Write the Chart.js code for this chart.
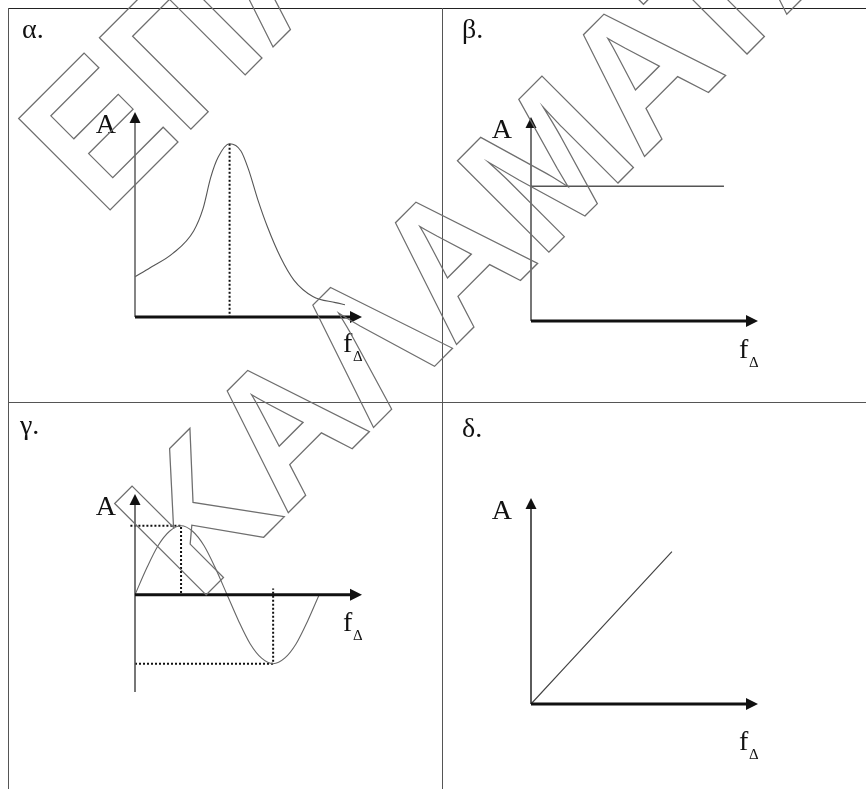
<!DOCTYPE html>
<html>
<head>
<meta charset="utf-8">
<script src="https://cdn.jsdelivr.net/npm/chart.js@4.4.0/dist/chart.umd.min.js"></script>
<style>
  body { margin: 0; background: #fff; width: 866px; height: 789px; overflow: hidden; position: relative; }
  canvas { position: absolute; }
  .rule { position: absolute; background: #555; }
</style>
</head>
<body>
<div class="rule" style="left:8px;top:8px;width:858px;height:1px;background:#222"></div>
<div class="rule" style="left:8px;top:8px;width:1px;height:781px"></div>
<div class="rule" style="left:442px;top:8px;width:1px;height:781px"></div>
<div class="rule" style="left:8px;top:402px;width:858px;height:1px"></div>

<canvas id="panelA" width="433" height="393" style="left:9px;top:9px"></canvas>
<canvas id="panelB" width="423" height="393" style="left:443px;top:9px"></canvas>
<canvas id="panelC" width="433" height="386" style="left:9px;top:403px"></canvas>
<canvas id="panelD" width="423" height="386" style="left:443px;top:403px"></canvas>
<canvas id="mark" width="866" height="789" style="left:0;top:0;pointer-events:none"></canvas>

<script>
// α. resonance curve
var resX = [0, 0.8, 2.0, 3.1, 3.6, 4.0, 4.4, 5.0, 5.6, 6.0, 6.5, 7.0, 7.7, 8.4, 9.4, 10.6, 11.1];
var resY = [1.96, 2.4, 3.1, 4.2, 5.3, 6.8, 7.8, 8.45, 8.1, 7.2, 5.7, 4.4, 2.9, 1.8, 1.0, 0.7, 0.6];
var resGuideX = [5.0, 5.0];
var resGuideY = [8.45, 0];
var alphaRangeX = [0, 12];
var alphaRangeY = [0, 10];

// β. flat line
var flatX = [0, 10.2];
var flatY = [6.6, 6.6];
var betaRangeX = [0, 12];
var betaRangeY = [0, 10];

// γ. sine
var sineX = [0, 0.25, 0.5, 0.75, 1, 1.25, 1.5, 1.75, 2, 2.25, 2.5, 2.75, 3, 3.25, 3.5, 3.75, 4];
var sineY = [0, 0.38, 0.71, 0.92, 1, 0.92, 0.71, 0.38, 0, -0.38, -0.71, -0.92, -1, -0.92, -0.71, -0.38, 0];
var peakGuideX = [-0.1, 1, 1];
var peakGuideY = [1, 1, 0];
var troughGuideX = [0, 3, 3];
var troughGuideY = [-1, -1, 0.09];
var gammaRangeX = [0, 4.93];
var gammaRangeY = [-1.41, 1.46];

// δ. ramp
var rampX = [0, 7.45];
var rampY = [0, 7.4];
var deltaRangeX = [0, 12];
var deltaRangeY = [0, 10];

var serif = '"Liberation Serif", "Times New Roman", serif';

function zip(xs, ys) {
  var out = [];
  for (var i = 0; i < xs.length; i++) {
    out.push({ x: xs[i], y: ys[i] });
  }
  return out;
}

function curve(xs, ys, color, width) {
  return {
    data: zip(xs, ys),
    showLine: true,
    borderColor: color,
    borderWidth: width,
    pointRadius: 0,
    cubicInterpolationMode: "monotone",
    clip: false
  };
}

function dotted(xs, ys) {
  return {
    data: zip(xs, ys),
    showLine: true,
    borderColor: "#111",
    borderWidth: 2,
    borderDash: [2, 2],
    pointRadius: 0,
    clip: false
  };
}

// draws the arrow axes, the A / f_Δ labels and the panel tag
var arrowAxes = {
  id: "arrowAxes",
  afterDatasetsDraw: function (chart, args, opts) {
    var ctx = chart.ctx;
    var xs = chart.scales.x, ys = chart.scales.y;
    var ox = xs.getPixelForValue(0), oy = ys.getPixelForValue(0);
    var tipX = xs.getPixelForValue(xs.max);
    var tipY = ys.getPixelForValue(ys.max);
    var bottom = ys.getPixelForValue(ys.min);

    ctx.save();
    ctx.strokeStyle = opts.yColor;
    ctx.lineWidth = 1.6;
    ctx.beginPath();
    ctx.moveTo(ox, bottom);
    ctx.lineTo(ox, tipY + 8);
    ctx.stroke();

    ctx.strokeStyle = "#111";
    ctx.lineWidth = 3;
    ctx.beginPath();
    ctx.moveTo(ox, oy);
    ctx.lineTo(tipX - 8, oy);
    ctx.stroke();

    ctx.fillStyle = "#111";
    ctx.beginPath();
    ctx.moveTo(ox, tipY);
    ctx.lineTo(ox - 5.5, tipY + 11);
    ctx.lineTo(ox + 5.5, tipY + 11);
    ctx.closePath();
    ctx.fill();
    ctx.beginPath();
    ctx.moveTo(tipX, oy);
    ctx.lineTo(tipX - 12, oy - 6);
    ctx.lineTo(tipX - 12, oy + 6);
    ctx.closePath();
    ctx.fill();

    ctx.font = "28px " + serif;
    ctx.textBaseline = "alphabetic";
    ctx.textAlign = "right";
    ctx.fillText("A", ox - 19, tipY + 21);
    ctx.textAlign = "left";
    ctx.fillText("f", tipX - 19, oy + opts.fDy);
    ctx.font = "15px " + serif;
    ctx.fillText("Δ", tipX - 9, oy + opts.fDy + 9);

    ctx.font = "28px " + serif;
    ctx.fillText(opts.tag, opts.tagX, opts.tagY);
    ctx.restore();
  }
};

function makePanel(id, datasets, rx, ry, pad, axisOpts) {
  return new Chart(document.getElementById(id), {
    type: "scatter",
    data: { datasets: datasets },
    options: {
      responsive: false,
      animation: false,
      layout: { padding: pad },
      scales: {
        x: { type: "linear", display: false, min: rx[0], max: rx[1] },
        y: { type: "linear", display: false, min: ry[0], max: ry[1] }
      },
      plugins: {
        legend: { display: false },
        tooltip: { enabled: false },
        arrowAxes: axisOpts
      }
    },
    plugins: [arrowAxes]
  });
}

makePanel("panelA",
  [curve(resX, resY, "#555", 1.1), dotted(resGuideX, resGuideY)],
  alphaRangeX, alphaRangeY,
  { left: 126, right: 80, top: 103, bottom: 85 },
  { yColor: "#666", fDy: 35, tag: "α.", tagX: 13, tagY: 29 });

makePanel("panelB",
  [curve(flatX, flatY, "#555", 1.5)],
  betaRangeX, betaRangeY,
  { left: 88, right: 108, top: 108, bottom: 81 },
  { yColor: "#555", fDy: 37, tag: "β.", tagX: 19, tagY: 29 });

makePanel("panelC",
  [curve(sineX, sineY, "#666", 1.1), dotted(peakGuideX, peakGuideY), dotted(troughGuideX, troughGuideY)],
  gammaRangeX, gammaRangeY,
  { left: 126, right: 80, top: 91, bottom: 97 },
  { yColor: "#555", fDy: 36, tag: "γ.", tagX: 11, tagY: 31 });

makePanel("panelD",
  [curve(rampX, rampY, "#444", 1.2)],
  deltaRangeX, deltaRangeY,
  { left: 88, right: 108, top: 95, bottom: 85 },
  { yColor: "#333", fDy: 46, tag: "δ.", tagX: 19, tagY: 34 });

// outlined diagonal watermark
function drawWatermark() {
  var ctx = document.getElementById("mark").getContext("2d");
  ctx.strokeStyle = "#6e6e6e";
  ctx.lineWidth = 1.3;
  ctx.font = 'bold 188px "Liberation Sans", Arial, sans-serif';
  [[102, 218, "ΕΠΑΛ"], [198, 603, "ΚΑΛΑΜΑΤΑ"]].forEach(function (w) {
    ctx.save();
    ctx.translate(w[0], w[1]);
    ctx.rotate(-Math.PI / 4);
    ctx.scale(0.91, 1);
    ctx.strokeText(w[2], 0, 0);
    ctx.restore();
  });
}
drawWatermark();
</script>
</body>
</html>
